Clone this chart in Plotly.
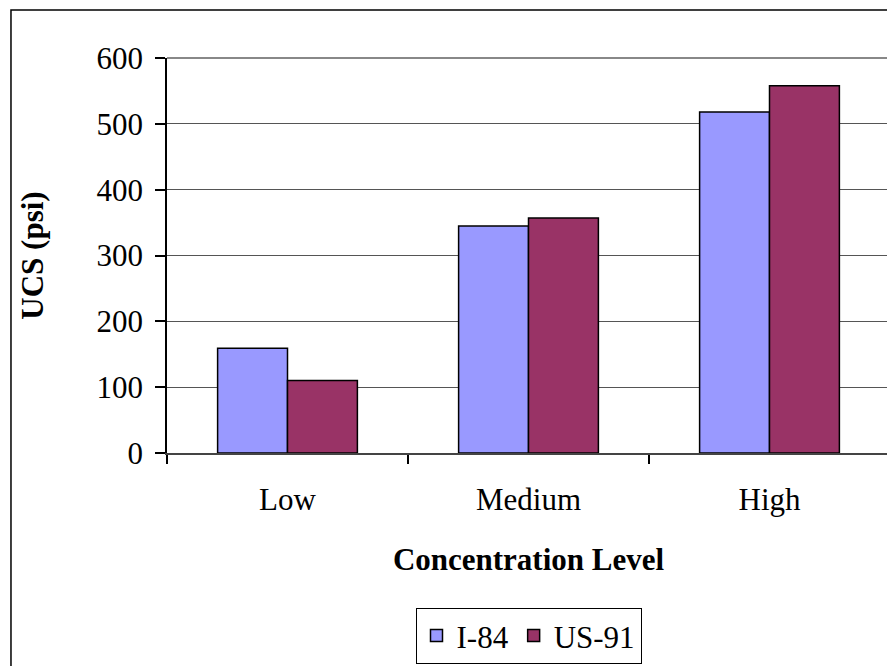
import plotly.graph_objects as go

categories = ["Low", "Medium", "High"]
i84_values = [159, 345, 518]
us91_values = [110, 357, 558]
series_names = ["I-84", "US-91"]
y_tick_values = [0, 100, 200, 300, 400, 500, 600]

FONT = "Liberation Serif, Times New Roman, serif"

fig = go.Figure()
fig.add_trace(go.Bar(x=categories, y=i84_values, name=series_names[0],
                     marker=dict(color="#9999FF", line=dict(color="black", width=1.5))))
fig.add_trace(go.Bar(x=categories, y=us91_values, name=series_names[1],
                     marker=dict(color="#993366", line=dict(color="black", width=1.5))))

# page has an 8px body margin, so the figure is drawn at (8, 8)
fig.update_layout(
    width=887, height=658,
    margin=dict(l=159, r=5, t=50, b=213, autoexpand=False),
    paper_bgcolor="white", plot_bgcolor="white",
    font=dict(family=FONT, size=31, color="black"),
    barmode="group", bargap=0.42, bargroupgap=0,
    showlegend=True,
    legend=dict(orientation="h", x=0.5, xanchor="center", y=-0.392, yanchor="top",
                bordercolor="black", borderwidth=1, bgcolor="white",
                font=dict(family=FONT, size=31), itemwidth=30, traceorder="normal"),
    xaxis=dict(showline=True, linecolor="#444", linewidth=1.5, ticks="outside",
               tickson="boundaries", ticklen=9, tickcolor="black", tickwidth=1.5,
               showgrid=False, mirror=False, ticklabelstandoff=18, automargin=False,
               title=dict(text="<b>Concentration Level</b>", standoff=32,
                          font=dict(family=FONT, size=31))),
    yaxis=dict(range=[0, 600], tickvals=y_tick_values, showline=True, linecolor="black",
               linewidth=1.5, ticks="outside", ticklen=10, tickcolor="black", tickwidth=1.5,
               showgrid=True, gridcolor="#555", gridwidth=1.2, zeroline=False,
               ticklabelstandoff=6, automargin=False,
               title=dict(text="<b>UCS (psi)</b>", standoff=44,
                          font=dict(family=FONT, size=31))),
    shapes=[
        dict(type="rect", xref="paper", yref="paper", x0=-0.2158, x1=1.2, y0=-1.0, y1=1.1215,
             line=dict(color="black", width=1.5), fillcolor="rgba(0,0,0,0)", layer="below"),
        dict(type="line", xref="paper", yref="paper", x0=1, x1=1, y0=0, y1=1,
             line=dict(color="#999", width=2)),
        dict(type="line", xref="paper", yref="paper", x0=0, x1=1, y0=1, y1=1,
             line=dict(color="#888", width=2)),
    ],
)

fig.write_html("out.html")
